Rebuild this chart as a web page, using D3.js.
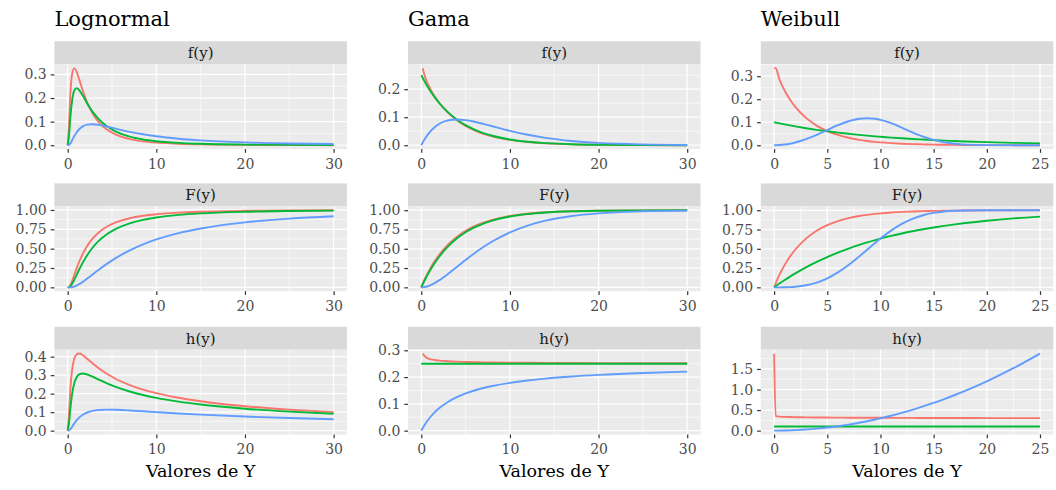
<!DOCTYPE html>
<html>
<head>
<meta charset="utf-8">
<script src="https://cdn.jsdelivr.net/npm/d3@7"></script>
<style>
  body { margin: 0; background: #ffffff; }
  svg { display: block; }
  text { font-family: "DejaVu Serif", serif; }
</style>
</head>
<body>
<svg id="chart" width="1056" height="490"></svg>
<script>
// ---------- Lognormal (three parameter sets: a = red, b = green, c = blue) ----------
const lognormalX = [0, 0.15, 0.3, 0.5, 0.75, 1, 1.3, 1.7, 2.2, 2.8, 3.5, 4.5, 5.5, 7, 8.5, 10, 12.5, 15, 20, 25, 30];
const lognormal_f_a = [0, 0.0912, 0.2171, 0.3023, 0.3266, 0.3123, 0.2789, 0.2313, 0.1806, 0.1350, 0.0978, 0.0642, 0.0438, 0.0262, 0.0166, 0.0110, 0.0060, 0.0035, 0.0014, 0.0007, 0.0003];
const lognormal_f_b = [0, 0.0401, 0.1172, 0.1903, 0.2321, 0.2420, 0.2338, 0.2102, 0.1773, 0.1424, 0.1104, 0.0781, 0.0566, 0.0364, 0.0245, 0.0171, 0.0100, 0.0062, 0.0027, 0.0014, 0.0007];
const lognormal_f_c = [0, 0.0013, 0.0078, 0.0212, 0.0389, 0.0540, 0.0678, 0.0797, 0.0871, 0.0890, 0.0862, 0.0784, 0.0694, 0.0569, 0.0465, 0.0381, 0.0278, 0.0207, 0.0122, 0.0076, 0.0050];
const lognormal_F_a = [0, 0.0047, 0.0285, 0.0818, 0.1616, 0.2420, 0.3309, 0.4329, 0.5352, 0.6292, 0.7098, 0.7893, 0.8425, 0.8936, 0.9251, 0.9455, 0.9661, 0.9777, 0.9892, 0.9941, 0.9965];
const lognormal_F_b = [0, 0.0019, 0.0138, 0.0452, 0.0989, 0.1587, 0.2304, 0.3194, 0.4163, 0.5118, 0.5998, 0.6929, 0.7595, 0.8279, 0.8729, 0.9036, 0.9365, 0.9562, 0.9770, 0.9868, 0.9918];
const lognormal_F_c = [0, 0.0000, 0.0007, 0.0035, 0.0111, 0.0228, 0.0413, 0.0709, 0.1129, 0.1659, 0.2276, 0.3100, 0.3839, 0.4784, 0.5557, 0.6189, 0.7004, 0.7606, 0.8403, 0.8885, 0.9194];
const lognormal_h_a = [0, 0.0916, 0.2235, 0.3292, 0.3896, 0.4119, 0.4168, 0.4079, 0.3886, 0.3639, 0.3371, 0.3046, 0.2780, 0.2465, 0.2221, 0.2026, 0.1776, 0.1587, 0.1319, 0.1136, 0.1000];
const lognormal_h_b = [0, 0.0401, 0.1188, 0.1993, 0.2576, 0.2876, 0.3038, 0.3088, 0.3037, 0.2917, 0.2758, 0.2542, 0.2353, 0.2117, 0.1928, 0.1772, 0.1568, 0.1411, 0.1185, 0.1027, 0.0911];
const lognormal_h_c = [0, 0.0013, 0.0079, 0.0213, 0.0393, 0.0552, 0.0707, 0.0858, 0.0981, 0.1067, 0.1116, 0.1136, 0.1127, 0.1091, 0.1046, 0.1000, 0.0928, 0.0864, 0.0761, 0.0681, 0.0618];

// ---------- Gama ----------
const gammaX = [0, 0.15, 0.5, 1, 1.5, 2, 3, 4, 5, 6, 7, 8, 10, 12, 14, 17, 20, 25, 30];
const gamma_f_a = [null, 0.2751, 0.2374, 0.2023, 0.1750, 0.1522, 0.1162, 0.0892, 0.0687, 0.0530, 0.0410, 0.0317, 0.0190, 0.0114, 0.0069, 0.0032, 0.0015, 0.0004, 0.0001];
const gamma_f_b = [0.25, 0.2408, 0.2206, 0.1947, 0.1718, 0.1516, 0.1181, 0.0920, 0.0716, 0.0558, 0.0434, 0.0338, 0.0205, 0.0124, 0.0075, 0.0036, 0.0017, 0.0005, 0.0001];
const gamma_f_c = [0, 0.0090, 0.0276, 0.0487, 0.0644, 0.0758, 0.0886, 0.0920, 0.0895, 0.0837, 0.0760, 0.0677, 0.0513, 0.0373, 0.0264, 0.0152, 0.0084, 0.0030, 0.0010];
const gamma_F_a = [0, 0.0443, 0.1333, 0.2427, 0.3368, 0.4184, 0.5518, 0.6538, 0.7323, 0.7928, 0.8395, 0.8755, 0.9251, 0.9549, 0.9728, 0.9873, 0.9940, 0.9983, 0.9995];
const gamma_F_b = [0, 0.0368, 0.1175, 0.2212, 0.3127, 0.3935, 0.5276, 0.6321, 0.7135, 0.7769, 0.8262, 0.8647, 0.9179, 0.9502, 0.9698, 0.9857, 0.9933, 0.9981, 0.9994];
const gamma_F_c = [0, 0.0007, 0.0072, 0.0265, 0.0550, 0.0902, 0.1734, 0.2642, 0.3554, 0.4422, 0.5221, 0.5940, 0.7127, 0.8009, 0.8641, 0.9251, 0.9596, 0.9860, 0.9953];
const gamma_h_a = [null, 0.2879, 0.2739, 0.2672, 0.2638, 0.2617, 0.2592, 0.2576, 0.2566, 0.2557, 0.2551, 0.2546, 0.2539, 0.2533, 0.2529, 0.2525, 0.2522, 0.2518, 0.2515];
const gamma_h_b = [0.25, 0.25, 0.25, 0.25, 0.25, 0.25, 0.25, 0.25, 0.25, 0.25, 0.25, 0.25, 0.25, 0.25, 0.25, 0.25, 0.25, 0.25, 0.25];
const gamma_h_c = [0, 0.0090, 0.0278, 0.0500, 0.0682, 0.0833, 0.1071, 0.1250, 0.1389, 0.1500, 0.1591, 0.1667, 0.1786, 0.1875, 0.1944, 0.2024, 0.2083, 0.2155, 0.2206];

// ---------- Weibull ----------
const weibullX = [0, 0.15, 0.5, 1, 1.5, 2, 3, 4, 5, 6, 7, 8, 8.75, 9.5, 10, 11, 12, 13, 14, 15, 16, 17, 18, 20, 22.5, 25];
const weibull_f_a = [0.335, 0.3349, 0.2862, 0.2368, 0.1981, 0.1667, 0.1189, 0.0855, 0.0617, 0.0447, 0.0324, 0.0236, 0.0186, 0.0147, 0.0125, 0.0092, 0.0067, 0.0049, 0.0036, 0.0026, 0.0019, 0.0014, 0.0010, 0.0006, 0.0003, 0.0001];
const weibull_f_b = [0.1, 0.0985, 0.0951, 0.0905, 0.0861, 0.0819, 0.0741, 0.0670, 0.0607, 0.0549, 0.0497, 0.0449, 0.0417, 0.0387, 0.0368, 0.0333, 0.0301, 0.0273, 0.0247, 0.0223, 0.0202, 0.0183, 0.0165, 0.0135, 0.0105, 0.0082];
const weibull_f_c = [0, 0.0001, 0.0008, 0.0030, 0.0067, 0.0119, 0.0263, 0.0450, 0.0662, 0.0870, 0.1043, 0.1151, 0.1176, 0.1149, 0.1104, 0.0959, 0.0767, 0.0563, 0.0378, 0.0231, 0.0128, 0.0064, 0.0028, 0.0004, 0.0000, 0.0000];
const weibull_F_a = [0, 0.0532, 0.1613, 0.2915, 0.3998, 0.4907, 0.6321, 0.7334, 0.8063, 0.8590, 0.8972, 0.9249, 0.9407, 0.9531, 0.9599, 0.9706, 0.9785, 0.9842, 0.9884, 0.9915, 0.9937, 0.9954, 0.9966, 0.9982, 0.9991, 0.9996];
const weibull_F_b = [0, 0.0149, 0.0488, 0.0952, 0.1393, 0.1813, 0.2592, 0.3297, 0.3935, 0.4512, 0.5034, 0.5507, 0.5831, 0.6133, 0.6321, 0.6671, 0.6988, 0.7275, 0.7534, 0.7769, 0.7981, 0.8173, 0.8347, 0.8647, 0.8946, 0.9179];
const weibull_F_c = [0, 0.0000, 0.0001, 0.0010, 0.0034, 0.0080, 0.0266, 0.0620, 0.1175, 0.1943, 0.2904, 0.4007, 0.4882, 0.5757, 0.6321, 0.7358, 0.8224, 0.8889, 0.9357, 0.9658, 0.9834, 0.9927, 0.9971, 0.9997, 1.0000, 1.0000];
const weibull_h_a = [1.87, 0.3537, 0.3412, 0.3342, 0.3301, 0.3273, 0.3233, 0.3206, 0.3184, 0.3167, 0.3152, 0.3140, 0.3131, 0.3123, 0.3119, 0.3110, 0.3102, 0.3094, 0.3087, 0.3081, 0.3075, 0.3069, 0.3064, 0.3054, 0.3044, 0.3034];
const weibull_h_b = [0.1, 0.1, 0.1, 0.1, 0.1, 0.1, 0.1, 0.1, 0.1, 0.1, 0.1, 0.1, 0.1, 0.1, 0.1, 0.1, 0.1, 0.1, 0.1, 0.1, 0.1, 0.1, 0.1, 0.1, 0.1, 0.1];
const weibull_h_c = [0, 0.0001, 0.0008, 0.0030, 0.0068, 0.0120, 0.0270, 0.0480, 0.0750, 0.1080, 0.1470, 0.1920, 0.2297, 0.2708, 0.3000, 0.3630, 0.4320, 0.5070, 0.5880, 0.6750, 0.7680, 0.8670, 0.9720, 1.2000, 1.5188, 1.8750];

// ---------- ticks and labels ----------
const titles = ["Lognormal", "Gama", "Weibull"];
const stripLabels = ["f(y)", "F(y)", "h(y)"];
const xAxisTitle = "Valores de Y";
const lognormalXTicks = [0, 10, 20, 30];
const gammaXTicks = [0, 10, 20, 30];
const weibullXTicks = [0, 5, 10, 15, 20, 25];
const lognormalYTicks_f = [0, 0.1, 0.2, 0.3];
const gammaYTicks_f = [0, 0.1, 0.2];
const weibullYTicks_f = [0, 0.1, 0.2, 0.3];
const cdfYTicks = [0, 0.25, 0.5, 0.75, 1];
const lognormalYTicks_h = [0, 0.1, 0.2, 0.3, 0.4];
const gammaYTicks_h = [0, 0.1, 0.2, 0.3];
const weibullYTicks_h = [0, 0.5, 1, 1.5];
const yTickFormats = [".1f", ".2f", ".1f"];

const seriesColors = ["#F8766D", "#00BA38", "#619CFF"];

// ---------- layout ----------
const colLeft = [54.4, 408.0, 760.8];
const panelW = 292.5;
const panelTop = [64.3, 206.4, 349.7];
const panelH = 84.8;
const stripH = 23;

const columns = [
  { x: lognormalX, xTicks: lognormalXTicks,
    series: [[lognormal_f_a, lognormal_f_b, lognormal_f_c], [lognormal_F_a, lognormal_F_b, lognormal_F_c], [lognormal_h_a, lognormal_h_b, lognormal_h_c]],
    yTicks: [lognormalYTicks_f, cdfYTicks, lognormalYTicks_h] },
  { x: gammaX, xTicks: gammaXTicks,
    series: [[gamma_f_a, gamma_f_b, gamma_f_c], [gamma_F_a, gamma_F_b, gamma_F_c], [gamma_h_a, gamma_h_b, gamma_h_c]],
    yTicks: [gammaYTicks_f, cdfYTicks, gammaYTicks_h] },
  { x: weibullX, xTicks: weibullXTicks,
    series: [[weibull_f_a, weibull_f_b, weibull_f_c], [weibull_F_a, weibull_F_b, weibull_F_c], [weibull_h_a, weibull_h_b, weibull_h_c]],
    yTicks: [weibullYTicks_f, cdfYTicks, weibullYTicks_h] }
];

const svg = d3.select("#chart");

// ggplot-style 5% expansion of a continuous range
function expand(ext) {
  const pad = (ext[1] - ext[0]) * 0.05;
  return [ext[0] - pad, ext[1] + pad];
}
// minor breaks halfway between majors (one extra step outside each end), kept inside the domain
function minorBreaks(major, domain) {
  const step = major[1] - major[0];
  const ext = [major[0] - step, ...major, major[major.length - 1] + step];
  const out = [];
  for (let i = 0; i < ext.length - 1; i++) {
    const m = (ext[i] + ext[i + 1]) / 2;
    if (m >= domain[0] && m <= domain[1]) out.push(m);
  }
  return out;
}

columns.forEach((col, ci) => {
  const left = colLeft[ci];
  const x = d3.scaleLinear().domain(expand(d3.extent(col.x))).range([left, left + panelW]);

  svg.append("text")
    .attr("x", left).attr("y", 26)
    .attr("font-size", 21).attr("fill", "#000")
    .text(titles[ci]);

  col.series.forEach((group, ri) => {
    const top = panelTop[ri];
    const bottom = top + panelH;
    const vals = group.flat().filter(v => v != null);
    const y = d3.scaleLinear().domain(expand(d3.extent(vals))).range([bottom, top]);
    const g = svg.append("g");

    // strip
    g.append("rect").attr("x", left).attr("y", top - stripH).attr("width", panelW).attr("height", stripH).attr("fill", "#D9D9D9");
    g.append("text")
      .attr("x", left + panelW / 2).attr("y", top - stripH / 2).attr("dy", "0.36em")
      .attr("text-anchor", "middle").attr("font-size", 15).attr("fill", "#1A1A1A")
      .text(stripLabels[ri]);

    // panel background
    g.append("rect").attr("x", left).attr("y", top).attr("width", panelW).attr("height", panelH).attr("fill", "#EBEBEB");

    const yMajor = col.yTicks[ri];
    const yMinor = minorBreaks(yMajor, y.domain());
    const xMinor = minorBreaks(col.xTicks, x.domain());

    const grid = g.append("g").attr("stroke", "#FFFFFF").attr("fill", "none");
    yMinor.forEach(v => grid.append("line").attr("x1", left).attr("x2", left + panelW).attr("y1", y(v)).attr("y2", y(v)).attr("stroke-width", 0.6));
    xMinor.forEach(v => grid.append("line").attr("y1", top).attr("y2", bottom).attr("x1", x(v)).attr("x2", x(v)).attr("stroke-width", 0.6));
    yMajor.filter(v => v >= y.domain()[0] && v <= y.domain()[1])
      .forEach(v => grid.append("line").attr("x1", left).attr("x2", left + panelW).attr("y1", y(v)).attr("y2", y(v)).attr("stroke-width", 1.25));
    col.xTicks.forEach(v => grid.append("line").attr("y1", top).attr("y2", bottom).attr("x1", x(v)).attr("x2", x(v)).attr("stroke-width", 1.25));

    // curves
    const clipId = `clip-${ci}-${ri}`;
    g.append("clipPath").attr("id", clipId).append("rect")
      .attr("x", left).attr("y", top).attr("width", panelW).attr("height", panelH);
    const line = d3.line()
      .defined(d => d[1] != null)
      .x(d => x(d[0])).y(d => y(d[1]))
      .curve(d3.curveMonotoneX);
    group.forEach((values, si) => {
      g.append("path")
        .datum(col.x.map((xv, i) => [xv, values[i]]))
        .attr("clip-path", `url(#${clipId})`)
        .attr("fill", "none")
        .attr("stroke", seriesColors[si])
        .attr("stroke-width", 1.9)
        .attr("stroke-linejoin", "round")
        .attr("d", line);
    });

    // axes
    const yAxis = g.append("g").attr("transform", `translate(${left},0)`)
      .call(d3.axisLeft(y).tickValues(yMajor).tickFormat(d3.format(yTickFormats[ri])).tickSize(3.7).tickPadding(4));
    const xAxis = g.append("g").attr("transform", `translate(0,${bottom})`)
      .call(d3.axisBottom(x).tickValues(col.xTicks).tickFormat(d3.format("d")).tickSize(3.7).tickPadding(6));
    [yAxis, xAxis].forEach(a => {
      a.attr("font-family", null);
      a.select(".domain").remove();
      a.selectAll(".tick line").attr("stroke", "#333333").attr("stroke-width", 1.2);
      a.selectAll(".tick text").attr("fill", "#4D4D4D").attr("font-size", 14)
        .attr("font-family", '"DejaVu Serif", serif');
    });

    if (ri === 2) {
      svg.append("text")
        .attr("x", left + panelW / 2).attr("y", 477)
        .attr("text-anchor", "middle").attr("font-size", 17.5).attr("fill", "#000")
        .text(xAxisTitle);
    }
  });
});
</script>
</body>
</html>
